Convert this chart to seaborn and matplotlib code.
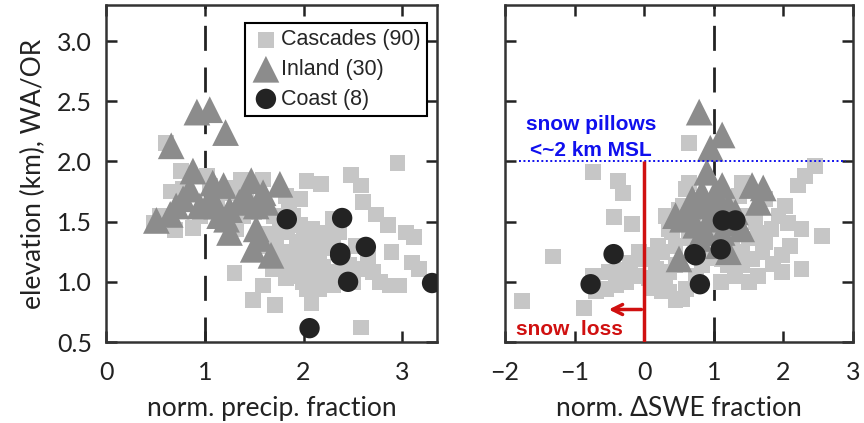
import numpy as np
import pandas as pd
import matplotlib
matplotlib.use("Agg")
import matplotlib.pyplot as plt
import seaborn as sns

# ---------------- data ----------------
# Left panel: normalized precipitation fraction vs elevation (km)
cascades_precip = [0.61, 0.76, 0.66, 0.48, 0.70, 0.88, 1.02, 1.37, 1.59, 1.82, 1.39, 1.30, 1.69, 1.49,
                   1.71, 2.08, 2.58, 2.03, 2.18, 2.48, 2.58, 2.95, 2.60, 2.73, 2.85, 3.04, 3.12, 2.89,
                   3.10, 3.17, 2.77, 2.87, 2.97, 2.23, 2.30, 2.16, 2.13, 2.23, 2.30, 1.96, 1.99, 1.86,
                   1.83, 1.93, 1.89, 2.53, 2.60, 2.70, 2.46, 2.03, 1.72, 1.76, 2.09, 2.30, 1.96, 1.42,
                   1.05, 1.22, 0.78, 1.12, 0.95, 1.32, 1.62, 1.76, 1.82, 1.59, 2.03, 2.16, 2.50, 2.09,
                   2.36, 1.96, 1.00, 1.30, 1.50, 1.70, 1.90, 2.00, 2.20, 2.40, 2.25, 2.10, 1.85, 1.65,
                   2.45, 2.65, 2.00, 1.75, 2.35, 0.55]
cascades_elev_p = [2.15, 1.92, 1.75, 1.49, 1.43, 1.45, 1.88, 1.85, 1.85, 1.71, 1.55, 1.07, 1.11, 0.85,
                   0.81, 0.82, 0.62, 1.84, 1.81, 1.89, 1.80, 1.99, 1.66, 1.56, 1.47, 1.41, 1.37, 1.25,
                   1.16, 1.11, 1.00, 0.97, 0.97, 1.41, 1.33, 1.25, 1.16, 1.03, 0.97, 1.05, 1.00, 1.16,
                   1.41, 1.33, 1.55, 1.30, 1.11, 1.08, 1.14, 1.27, 1.36, 1.47, 1.44, 1.52, 1.69, 1.74,
                   1.80, 1.74, 1.77, 1.66, 1.55, 1.44, 1.30, 1.25, 1.03, 0.97, 0.94, 0.94, 1.00, 1.36,
                   1.41, 1.47, 1.62, 1.78, 1.58, 1.55, 1.25, 1.15, 1.12, 1.20, 1.28, 1.05, 1.60, 1.40,
                   1.05, 1.20, 1.35, 1.15, 1.08, 1.55]

inland_precip = [0.92, 1.05, 1.21, 0.66, 0.88, 0.85, 1.08, 1.19, 1.47, 1.76, 1.59, 1.42, 0.78, 0.71,
                 0.95, 1.12, 1.25, 1.52, 1.62, 0.51, 0.65, 1.22, 1.25, 1.52, 1.49, 1.67, 1.05, 1.35,
                 1.15, 1.56]
inland_elev_p = [2.41, 2.43, 2.24, 2.13, 1.92, 1.77, 1.82, 1.80, 1.84, 1.81, 1.74, 1.71, 1.69, 1.63,
                 1.63, 1.63, 1.60, 1.63, 1.66, 1.51, 1.56, 1.52, 1.41, 1.44, 1.27, 1.22, 1.69, 1.66,
                 1.55, 1.36]

coast_precip = [1.83, 2.39, 2.37, 2.37, 2.63, 2.45, 3.30, 2.06]
coast_elev_p = [1.52, 1.53, 1.24, 1.22, 1.29, 1.00, 0.99, 0.615]

# Right panel: normalized delta-SWE fraction vs elevation (km)
cascades_swe = [0.64, -0.74, -0.38, -0.31, -0.43, -0.17, -1.31, -1.76, -0.86, -0.74, -0.50, -0.21,
                -0.26, -0.55, 0.12, 0.26, 0.07, 0.36, 0.36, 0.60, 0.45, 0.64, 0.31, 0.40, 0.64, 0.93,
                0.83, 1.21, 1.40, 1.26, 1.50, 1.64, 1.74, 1.55, 1.64, 1.98, 1.98, 2.26, 2.26, 2.55,
                1.93, 2.02, 2.21, 2.31, 2.45, 1.40, 1.74, 1.45, 1.12, 0.36, 0.45, 0.02, -0.07, -0.12,
                -0.40, -0.69, 0.55, 0.26, 0.17, 0.74, 0.88, 1.12, 1.40, 1.83, 2.07, 1.26, 0.69, 0.55,
                0.60, 1.36, 0.50, 0.70, 0.90, 1.00, 0.80, 1.00, 1.30, 1.50, 1.70, 1.85, 0.30, 0.10,
                -0.30, 0.20, 0.45, 1.10, 1.60, 2.10, 0.75, 1.20]
cascades_elev_s = [2.15, 1.91, 1.84, 1.74, 1.54, 1.48, 1.21, 0.84, 0.78, 1.05, 1.08, 1.16, 1.00, 0.94,
                   1.22, 1.25, 1.03, 1.08, 0.92, 0.94, 1.14, 1.82, 1.55, 1.41, 1.36, 1.36, 1.14, 1.14,
                   1.25, 1.27, 1.36, 1.41, 1.33, 1.19, 1.05, 1.22, 1.08, 1.11, 1.44, 1.38, 1.55, 1.63,
                   1.80, 1.88, 1.96, 1.82, 1.69, 1.55, 1.52, 1.44, 1.30, 1.19, 1.25, 1.05, 0.97, 0.92,
                   0.86, 0.92, 1.11, 1.22, 1.25, 1.19, 1.14, 1.44, 1.49, 1.41, 1.41, 1.63, 1.77, 1.71,
                   1.60, 1.55, 1.60, 1.45, 1.30, 1.20, 1.05, 1.00, 1.25, 1.15, 1.00, 0.95, 1.10, 1.30,
                   0.85, 1.00, 1.50, 1.30, 1.05, 1.70]

inland_swe = [0.79, 1.12, 0.95, 0.90, 1.55, 1.71, 1.64, 1.12, 0.83, 0.64, 0.83, 1.07, 1.21, 0.55,
              0.74, 0.93, 1.31, 1.40, 0.88, 1.12, 0.50, 1.21, 1.02, 0.69, 0.98, 0.45, 1.12, 0.79,
              1.07, 1.33]
inland_elev_s = [2.41, 2.22, 2.11, 1.91, 1.80, 1.78, 1.66, 1.80, 1.74, 1.58, 1.63, 1.66, 1.63, 1.52,
                 1.47, 1.52, 1.58, 1.44, 1.41, 1.41, 1.19, 1.25, 1.74, 1.69, 1.63, 1.55, 1.55, 1.36,
                 1.30, 1.49]

coast_swe = [-0.44, -0.77, 0.74, 0.80, 1.10, 1.13, 1.31, 0.72]
coast_elev_s = [1.23, 0.98, 1.22, 0.98, 1.27, 1.51, 1.51, 1.23]

group_labels = ["Cascades (90)", "Inland (30)", "Coast (8)"]
x_ticks_left = [0, 1, 2, 3]
x_ticks_right = [-2, -1, 0, 1, 2, 3]
y_ticks = [0.5, 1.0, 1.5, 2.0, 2.5, 3.0]

# ---------------- frames ----------------
def frame(xs, ys, label):
    return pd.DataFrame({"x": xs, "elev": ys, "group": label})

left_df = pd.concat([frame(cascades_precip, cascades_elev_p, group_labels[0]),
                     frame(inland_precip, inland_elev_p, group_labels[1]),
                     frame(coast_precip, coast_elev_p, group_labels[2])], ignore_index=True)
right_df = pd.concat([frame(cascades_swe, cascades_elev_s, group_labels[0]),
                      frame(inland_swe, inland_elev_s, group_labels[1]),
                      frame(coast_swe, coast_elev_s, group_labels[2])], ignore_index=True)

# ---------------- styling ----------------
sns.set_theme(style="ticks")
plt.rcParams["font.family"] = ["Lato", "DejaVu Sans"]

styles = {
    group_labels[0]: dict(marker="s", color="#c6c6c6", s=130),
    group_labels[1]: dict(marker="^", color="#8c8c8c", s=370),
    group_labels[2]: dict(marker="o", color="#232323", s=215),
}

fig = plt.figure(figsize=(8.64, 4.23), dpi=100)
axL = fig.add_axes([106 / 864, 1 - 342 / 423, (437 - 106) / 864, (342 - 5) / 423])
axR = fig.add_axes([505 / 864, 1 - 342 / 423, (853 - 505) / 864, (342 - 5) / 423])

for ax, df in ((axL, left_df), (axR, right_df)):
    for g in group_labels:
        st = styles[g]
        sns.scatterplot(data=df[df["group"] == g], x="x", y="elev", ax=ax,
                        marker=st["marker"], color=st["color"], s=st["s"],
                        edgecolor="none", linewidth=0, label=g, zorder=3)
    ax.axvline(1, color="#222222", lw=2, dashes=(9, 6), zorder=2)
    ax.set_ylim(0.5, 3.30)
    ax.set_yticks(y_ticks)
    ax.tick_params(direction="in", length=8, width=1.8, top=True, right=True,
                   labelsize=18, colors="#222222")
    ax.tick_params(axis="x", pad=14)
    ax.tick_params(axis="y", pad=10)
    for sp in ax.spines.values():
        sp.set_linewidth(1.8)
        sp.set_color("#333333")
    ax.set_ylabel("")

axL.set_xlim(0, 3.35)
axL.set_xticks(x_ticks_left)
axL.set_yticklabels([f"{v:.1f}" for v in y_ticks])
axL.set_xlabel("norm. precip. fraction", fontsize=19, labelpad=8, color="#222222")
axL.set_ylabel("elevation (km), WA/OR", fontsize=19, labelpad=8, color="#222222")

axR.set_xlim(-2, 3)
axR.set_xticks(x_ticks_right)
axR.set_xticklabels(["\u22122", "\u22121", "0", "1", "2", "3"])
axR.set_yticklabels([])
axR.set_xlabel("norm. \u0394SWE fraction", fontsize=19, labelpad=8, color="#222222")

# legend on left panel
leg = axL.legend(loc="upper right", bbox_to_anchor=(0.97, 0.947), frameon=True, fancybox=False,
                 edgecolor="black", framealpha=1, borderpad=0.3, handletextpad=0.05,
                 labelspacing=0.4, handlelength=1.3, borderaxespad=0,
                 prop={"family": ["Liberation Sans", "DejaVu Sans"], "size": 15.5})
leg.get_frame().set_linewidth(1.5)
if axR.get_legend():
    axR.get_legend().remove()

# annotations on right panel
axR.axhline(2.0, xmin=(-1.8 + 2) / 5, xmax=(2.9 + 2) / 5, color="#1010ee", lw=1.4,
            linestyle=(0, (1, 1.3)), zorder=4)
axR.plot([0, 0], [0.5, 2.0], color="#d01010", lw=2.5, zorder=5, solid_capstyle="butt")
axR.annotate("", xy=(-0.55, 0.77), xytext=(0, 0.77),
             arrowprops=dict(arrowstyle="->", color="#d01010", lw=2.5,
                             mutation_scale=18), zorder=5)
axR.text(-0.76, 2.31, "snow pillows", color="#1010ee", fontsize=15, fontweight="bold",
         ha="center", va="center", family=["Liberation Sans", "DejaVu Sans"], zorder=6)
axR.text(-0.76, 2.09, "<~2 km MSL", color="#1010ee", fontsize=15, fontweight="bold",
         ha="center", va="center", family=["Liberation Sans", "DejaVu Sans"], zorder=6)
axR.text(-1.07, 0.6, "snow  loss", color="#d01010", fontsize=15, fontweight="bold",
         ha="center", va="center", family=["Liberation Sans", "DejaVu Sans"], zorder=6)

fig.savefig("out.png", dpi=100)
